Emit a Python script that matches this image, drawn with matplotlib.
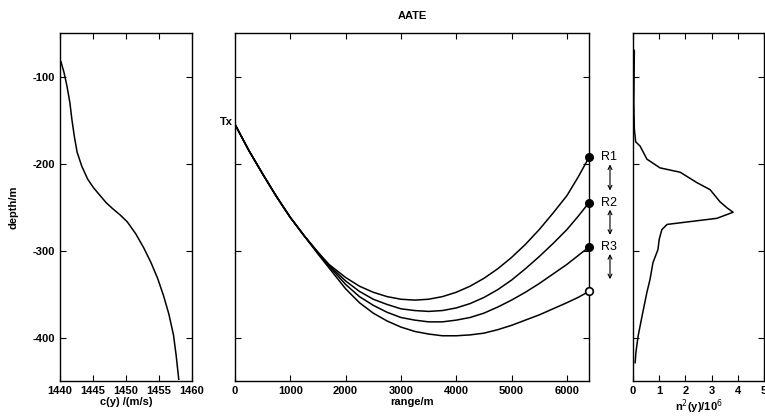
import numpy as np
import matplotlib.pyplot as plt

plt.rcParams['font.family'] = ['Liberation Sans', 'DejaVu Sans']
plt.rcParams['axes.unicode_minus'] = False

# sound speed profile c(y)
c_speed = [1440.15, 1440.6, 1441.06, 1441.5, 1441.8, 1442.2, 1442.6, 1443.3,
           1444.2, 1445.1, 1446.1, 1447.0, 1448.0, 1449.1, 1450.2, 1451.5,
           1452.7, 1453.8, 1454.8, 1455.7, 1456.5, 1457.2, 1457.6, 1458.0]
c_depth = [-83, -95, -111, -130, -149, -170, -187, -203,
           -218, -228, -237, -245, -252, -259, -267, -281,
           -297, -314, -332, -352, -373, -397, -420, -448]

# ray paths Tx -> receivers
ray_range = [0, 250, 500, 750, 1000, 1250, 1500, 1700, 2000, 2250, 2500, 2750,
             3000, 3250, 3500, 3750, 4000, 4250, 4500, 4750, 5000, 5250, 5500,
             5750, 6000, 6200, 6400]
ray_r1 = [-155, -185, -212, -238, -262, -283, -302, -316, -331, -341, -348, -353,
          -356, -357, -356, -353, -348, -341, -332, -321, -308, -293, -276,
          -257, -237, -216, -193]
ray_r2 = [-155, -185, -212, -238, -262, -283, -302, -317, -335, -347, -356, -362,
          -367, -369, -370, -369, -366, -361, -354, -345, -334, -321, -307,
          -292, -276, -261, -245]
ray_r3 = [-155, -185, -212, -238, -262, -283, -303, -318, -339, -353, -363, -371,
          -377, -380, -382, -382, -380, -377, -372, -365, -357, -348, -338,
          -327, -316, -306, -296]
ray_r4 = [-155, -185, -212, -238, -262, -283, -304, -320, -344, -360, -372, -381,
          -388, -393, -396, -398, -398, -397, -395, -391, -386, -380, -374,
          -367, -360, -354, -347]
rx_depth = [-193, -245, -296, -347]
rx_labels = ['R1', 'R2', 'R3']

# n^2(y) profile
n2_val = [0.05, 0.04, 0.03, 0.05, 0.1, 0.27, 0.53, 1.03, 1.8, 2.44, 2.94, 3.32,
          3.59, 3.82, 3.2, 1.3, 1.1, 1.0, 0.95, 0.76, 0.65, 0.53, 0.34, 0.19,
          0.11, 0.08]
n2_depth = [-70, -100, -130, -160, -175, -180, -195, -205, -210, -222, -230,
            -244, -251, -256, -263, -270, -276, -287, -299, -314, -333, -348,
            -376, -399, -417, -429]

fig = plt.figure(figsize=(7.65, 4.16), dpi=100)
ax1 = fig.add_axes([0.0784, 0.0841, 0.1725, 0.8365])
ax2 = fig.add_axes([0.3072, 0.0841, 0.4627, 0.8365])
ax3 = fig.add_axes([0.8275, 0.0841, 0.1712, 0.8365])

for ax in (ax1, ax2, ax3):
    ax.set_ylim(-450, -50)
    ax.set_yticks([-100, -200, -300, -400])
    ax.tick_params(direction='in', top=True, right=True, length=4,
                   labelsize=8, width=0.8)
    for s in ax.spines.values():
        s.set_linewidth(1.0)

# left: sound speed
ax1.plot(c_speed, c_depth, 'k-', linewidth=1.1)
ax1.set_xlim(1440, 1460)
ax1.set_xticks([1440, 1445, 1450, 1455, 1460])
ax1.set_xticklabels(['1440', '1445', '1450', '1455', '1460'], fontweight='bold')
ax1.set_yticklabels(['-100', '-200', '-300', '-400'], fontweight='bold')
ax1.set_xlabel('c(y) /(m/s)', fontsize=8, fontweight='bold', labelpad=1)
ax1.set_ylabel('depth/m', fontsize=8, fontweight='bold', labelpad=10)

# middle: rays
for ray in (ray_r1, ray_r2, ray_r3, ray_r4):
    ax2.plot(ray_range, ray, 'k-', linewidth=1.1)
ax2.plot([6400] * 3, rx_depth[:3], 'ko', markersize=5.5, clip_on=False, zorder=5)
ax2.plot([6400], rx_depth[3:], 'o', markersize=5.5, markerfacecolor='white',
         markeredgecolor='k', markeredgewidth=1.2, clip_on=False, zorder=5)
ax2.set_xlim(0, 6400)
ax2.set_xticks([0, 1000, 2000, 3000, 4000, 5000, 6000])
ax2.set_xticklabels(['0', '1000', '2000', '3000', '4000', '5000', '6000'],
                    fontweight='bold')
ax2.set_yticklabels([])
ax2.set_xlabel('range/m', fontsize=8, fontweight='bold', labelpad=1)
ax2.set_title('AATE', fontsize=8, fontweight='bold', pad=10)
ax2.text(-40, -152, 'Tx', ha='right', va='center', fontsize=8,
         fontweight='bold', clip_on=False)
for lab, d in zip(rx_labels, rx_depth):
    ax2.text(6620, d, lab, ha='left', va='center', fontsize=9,
             clip_on=False)
for d_top, d_bot in zip(rx_depth[:3], rx_depth[1:]):
    ax2.annotate('', xy=(6780, d_top - 8), xytext=(6780, d_bot + 14),
                 xycoords='data', annotation_clip=False,
                 arrowprops=dict(arrowstyle='<->', color='k', lw=0.8,
                                 shrinkA=0, shrinkB=0, mutation_scale=7))

# right: n^2
ax3.plot(n2_val, n2_depth, 'k-', linewidth=1.1)
ax3.set_xlim(0, 5)
ax3.set_xticks([0, 1, 2, 3, 4, 5])
ax3.set_xticklabels(['0', '1', '2', '3', '4', '5'], fontweight='bold')
ax3.set_yticklabels([])
ax3.set_xlabel('n$^2$(y)/10$^6$', fontsize=8, fontweight='bold', labelpad=1)

fig.savefig('out.png', dpi=100)
